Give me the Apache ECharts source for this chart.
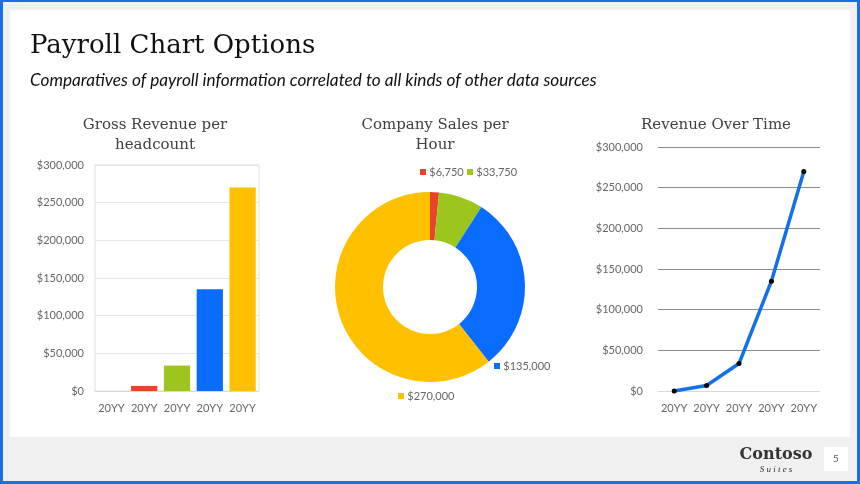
<!DOCTYPE html>
<html><head><meta charset="utf-8">
<script src="https://cdn.jsdelivr.net/npm/echarts@6/dist/echarts.min.js"></script>
<style>html,body{margin:0;padding:0;background:#1a6ee8;}#c{width:860px;height:484px;}</style>
</head><body><div id="c"></div>
<script>
const categories = ['20YY','20YY','20YY','20YY','20YY'];
const grossRevenue = [0, 6750, 33750, 135000, 270000];
const salesPerHour = [0, 6750, 33750, 135000, 270000];
const revenueOverTime = [0, 6750, 33750, 135000, 270000];
const yTicks = [0, 50000, 100000, 150000, 200000, 250000, 300000];
const colors = ['#e8432b', '#e8432b', '#9cc61e', '#0a6bff', '#ffc000'];

const money = v => '$' + Number(v).toLocaleString('en-US');
const chart = echarts.init(document.getElementById('c'), null, {renderer:'canvas'});
const axisLbl = {color:'#666666', fontSize:11, fontFamily:'Lato'};
const labelPos = [null, [420,172], [467,172], [494,366], [398,396]];

chart.setOption({
  animation:false,
  backgroundColor:'#1a6ee8',
  graphic:[
    {type:'rect', shape:{x:3,y:2,width:854,height:479}, style:{fill:'#f0f0f0'}, z:-10},
    {type:'rect', shape:{x:10,y:10,width:840,height:427}, style:{fill:'#ffffff'}, z:-9},
    {type:'rect', shape:{x:824,y:447,width:24,height:24}, style:{fill:'#ffffff'}, z:-8},
    {type:'text', x:836, y:459, style:{text:'5', fill:'#595959', fontSize:10, fontFamily:'Lato', align:'center', verticalAlign:'middle'}},
    {type:'text', x:776, y:455, style:{text:'Contoso', fill:'#333333', fontSize:16, fontWeight:'bold', fontFamily:'DejaVu Serif', align:'center', verticalAlign:'middle'}},
    {type:'text', x:776, y:470, style:{text:'S u i t e s', fill:'#333333', fontSize:9, fontStyle:'italic', fontFamily:'Liberation Serif', align:'center', verticalAlign:'middle'}},
    {type:'text', x:30, y:46, style:{text:'Payroll Chart Options', fill:'#111111', fontSize:26, fontFamily:'DejaVu Serif', align:'left', verticalAlign:'middle'}},
    {type:'text', x:30, y:80, style:{text:'Comparatives of payroll information correlated to all kinds of other data sources', fill:'#111111', fontSize:17.2, fontStyle:'italic', fontFamily:'Lato', align:'left', verticalAlign:'middle'}}
  ],
  title:[
    {text:'Gross Revenue per\nheadcount', left:150, top:110, textAlign:'center', textStyle:{color:'#404040', fontSize:15, fontWeight:'normal', fontFamily:'DejaVu Serif', lineHeight:20}},
    {text:'Company Sales per\nHour', left:430, top:110, textAlign:'center', textStyle:{color:'#404040', fontSize:15, fontWeight:'normal', fontFamily:'DejaVu Serif', lineHeight:20}},
    {text:'Revenue Over Time', left:711, top:110, textAlign:'center', textStyle:{color:'#404040', fontSize:15, fontWeight:'normal', fontFamily:'DejaVu Serif', lineHeight:20}}
  ],
  grid:[
    {left:95, top:165, width:164, height:226, show:true, borderColor:'#e0e0e0', borderWidth:1, backgroundColor:'transparent'},
    {left:658, top:147, width:162, height:244}
  ],
  xAxis:[
    {type:'category', gridIndex:0, data:categories, axisTick:{show:false}, axisLine:{lineStyle:{color:'#d9d9d9'}}, axisLabel:Object.assign({margin:12, interval:0}, axisLbl)},
    {type:'category', gridIndex:1, data:categories, axisTick:{show:false}, axisLine:{lineStyle:{color:'#d9d9d9'}}, axisLabel:Object.assign({margin:12, interval:0}, axisLbl)}
  ],
  yAxis:[
    {type:'value', gridIndex:0, min:yTicks[0], max:yTicks[yTicks.length-1], interval:yTicks[1]-yTicks[0], axisLine:{show:false}, axisTick:{show:false}, splitLine:{lineStyle:{color:'#e6e6e6'}}, axisLabel:Object.assign({formatter:money, margin:11}, axisLbl)},
    {type:'value', gridIndex:1, min:yTicks[0], max:yTicks[yTicks.length-1], interval:yTicks[1]-yTicks[0], axisLine:{show:false}, axisTick:{show:false}, splitLine:{lineStyle:{color:'#8c8c8c'}}, axisLabel:Object.assign({formatter:money, margin:15}, axisLbl)}
  ],
  series:[
    {type:'bar', xAxisIndex:0, yAxisIndex:0, barCategoryGap:'20%',
      data:grossRevenue.map((v,i)=>({value:v, itemStyle:{color:colors[i]}}))},
    {type:'pie', center:[430,287], radius:[47,95], startAngle:90, clockwise:true,
      itemStyle:{borderWidth:0},
      labelLine:{show:false},
      data:salesPerHour.map((v,i)=>({value:v, itemStyle:{color:colors[i]},
        label:{show:v>0, formatter:()=> '{m|} {v|' + money(v) + '}',
          rich:{m:{width:6,height:6,backgroundColor:colors[i]}, v:{color:'#666666', fontSize:11, fontFamily:'Lato'}}}})),
      labelLayout:function(p){ const pos = labelPos[p.dataIndex]; if(!pos) return {}; return {x:pos[0], y:pos[1], align:'left', verticalAlign:'middle'}; }
    },
    {type:'line', xAxisIndex:1, yAxisIndex:1, data:revenueOverTime, symbol:'circle', symbolSize:5,
      lineStyle:{color:'#1270e8', width:3.5}, itemStyle:{color:'#000000'}, z:3}
  ]
});
</script></body></html>
